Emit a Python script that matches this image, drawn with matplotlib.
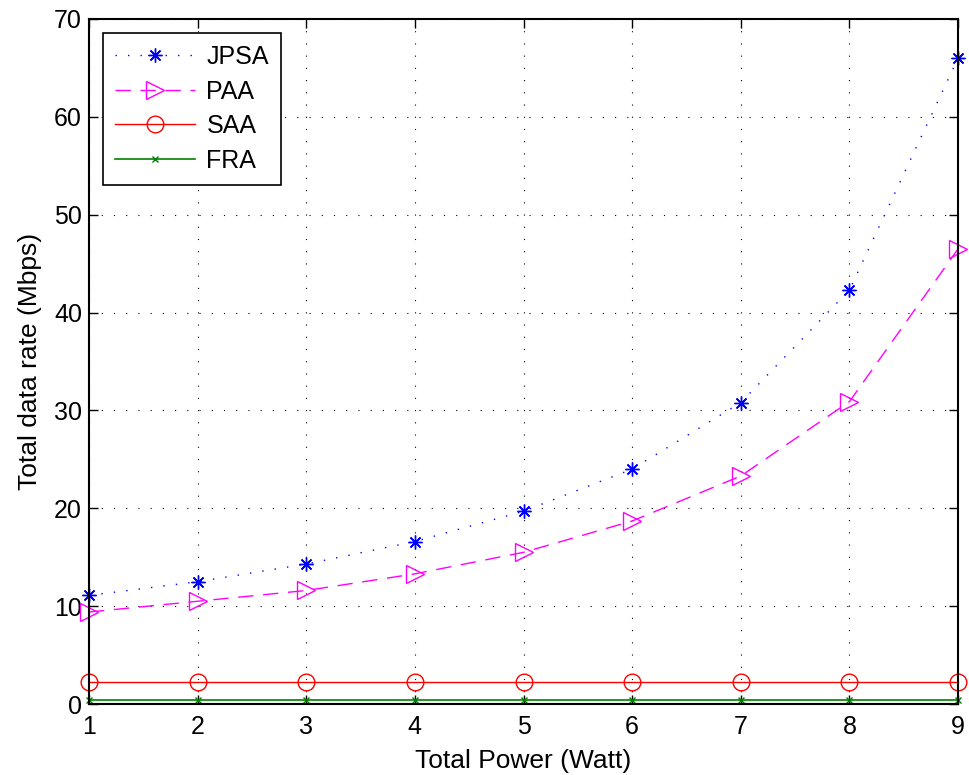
import numpy as np
import matplotlib.pyplot as plt

plt.rcParams['font.family'] = ['Liberation Sans', 'DejaVu Sans']

power = [1, 2, 3, 4, 5, 6, 7, 8, 9]
jpsa = [11.1, 12.5, 14.3, 16.6, 19.7, 24.0, 30.8, 42.3, 66.0]
paa = [9.4, 10.5, 11.6, 13.3, 15.5, 18.7, 23.3, 30.9, 46.5]
saa = [2.25] * 9
fra = [0.4] * 9

fig = plt.figure(figsize=(9.69, 7.75), dpi=100)
ax = fig.add_axes([0.0918, 0.0916, 0.8969, 0.8839])

# matlab-like asterisk: 8 spokes
ax.plot(power, jpsa, color='b', linestyle=(0, (1, 8)), linewidth=1,
        marker=(8, 2, 0), markersize=10, markeredgewidth=1, label='JPSA', clip_on=False)
ax.plot(power, paa, color='#ff00ff', linestyle=(0, (11, 7)), linewidth=1,
        marker='>', markersize=13.5, markerfacecolor='none', markeredgewidth=1,
        label='PAA', clip_on=False)
ax.plot(power, saa, color='r', linestyle='-', linewidth=1,
        marker='o', markersize=12, markerfacecolor='none', markeredgewidth=1,
        label='SAA', clip_on=False)
ax.plot(power, fra, color='g', linestyle='-', linewidth=1.2,
        marker='x', markersize=5, markeredgewidth=1, label='FRA', clip_on=False)

ax.set_xlim(1, 9)
ax.set_ylim(0, 70)
ax.set_xticks(range(1, 10))
ax.set_yticks(range(0, 71, 10))
ax.grid(True, color='k', linestyle=(0, (1, 10)), linewidth=0.8)
ax.tick_params(direction='in', top=True, right=True, length=6.5, labelsize=18, width=1)
ax.tick_params(axis='x', pad=8)
ax.tick_params(axis='y', pad=5)
for s in ax.spines.values():
    s.set_linewidth(1.5)

ax.set_xlabel('Total Power (Watt)', fontsize=19, labelpad=7)
ax.set_ylabel('Total data rate (Mbps)', fontsize=19, labelpad=9)

leg = ax.legend(loc='upper left', borderaxespad=0.55, fontsize=18,
                fancybox=False, edgecolor='k', framealpha=1, handlelength=3.2,
                handletextpad=0.45, borderpad=0.5, labelspacing=0.42)
leg.get_frame().set_linewidth(1.2)

fig.savefig('out.png', dpi=100)
